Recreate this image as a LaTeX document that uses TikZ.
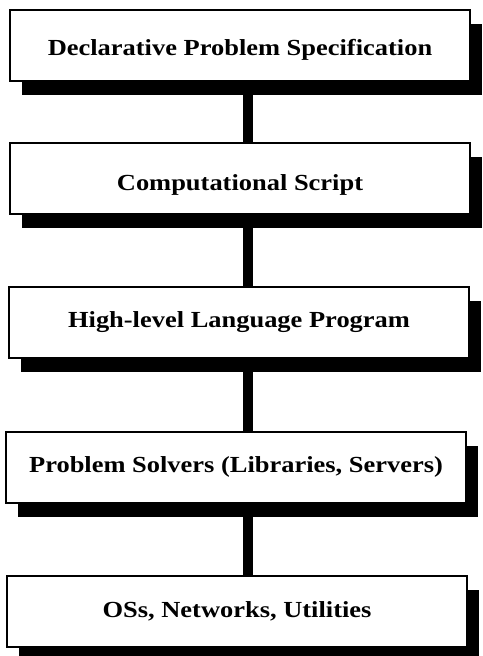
\documentclass[tikz,border=0pt]{standalone}
\usepackage{fontspec}
\setmainfont{Liberation Serif}[FakeStretch=1.15]
\usetikzlibrary{shadows,backgrounds}
\begin{document}
\begin{tikzpicture}[x=1pt,y=-1pt,
  layerbox/.style={draw=black, line width=2pt, fill=white, minimum width=460pt, minimum height=71pt,
    inner sep=0pt, font=\fontsize{23}{27}\selectfont\bfseries,
    drop shadow={shadow xshift=12pt, shadow yshift=-14pt, fill=black, opacity=1}},
  link/.style={line width=10pt, draw=black}]
\useasboundingbox (0,0) rectangle (482,656);
\node[layerbox, text height=26pt, text depth=5pt] (b1) at (240,45) {Declarative Problem Specification};
\node[layerbox, text height=30pt, text depth=5pt] (b2) at (240,178) {Computational Script};
\node[layerbox] (b3) at (239,322) {High-level Language Program};
\node[layerbox] (b4) at (236,467) {Problem Solvers (Libraries, Servers)};
\node[layerbox] (b5) at (237,611) {OSs, Networks, Utilities};
\begin{scope}[on background layer]
\draw[link] ([xshift=8pt]b1.south) -- ([xshift=8pt]b1.south |- b2.north);
\draw[link] ([xshift=8pt]b1.south |- b2.south) -- ([xshift=8pt]b1.south |- b3.north);
\draw[link] ([xshift=8pt]b1.south |- b3.south) -- ([xshift=8pt]b1.south |- b4.north);
\draw[link] ([xshift=8pt]b1.south |- b4.south) -- ([xshift=8pt]b1.south |- b5.north);
\end{scope}
\end{tikzpicture}
\end{document}
